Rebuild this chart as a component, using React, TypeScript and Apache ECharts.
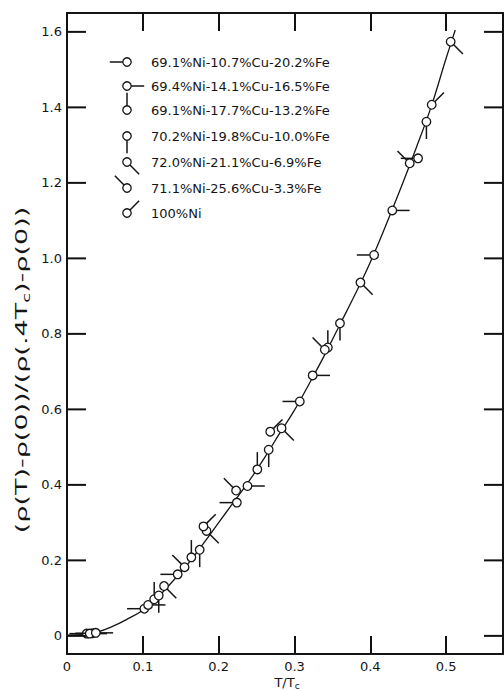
import React, { useEffect, useRef } from "react";
import * as echarts from "echarts";

const seriesNames = [
  "69.1%Ni-10.7%Cu-20.2%Fe",
  "69.4%Ni-14.1%Cu-16.5%Fe",
  "69.1%Ni-17.7%Cu-13.2%Fe",
  "70.2%Ni-19.8%Cu-10.0%Fe",
  "72.0%Ni-21.1%Cu-6.9%Fe",
  "71.1%Ni-25.6%Cu-3.3%Fe",
  "100%Ni",
];
// direction of each sample's "pip" in degrees (0 = right, 90 = up)
const pipAngles = [180, 0, 90, 270, 315, 135, 45];

const s1 = [[0.026, 0.006], [0.034, 0.007], [0.102, 0.072], [0.146, 0.163], [0.224, 0.353], [0.307, 0.621], [0.405, 1.009], [0.463, 1.265]];
const s2 = [[0.030, 0.006], [0.038, 0.008], [0.107, 0.082], [0.238, 0.397], [0.324, 0.690], [0.429, 1.127]];
const s3 = [[0.115, 0.097], [0.164, 0.208], [0.251, 0.441], [0.344, 0.764]];
const s4 = [[0.121, 0.107], [0.175, 0.228], [0.266, 0.493], [0.360, 0.828], [0.474, 1.362]];
const s5 = [[0.128, 0.132], [0.184, 0.278], [0.283, 0.550], [0.387, 0.936], [0.506, 1.574]];
const s6 = [[0.155, 0.182], [0.223, 0.385], [0.340, 0.758], [0.452, 1.252]];
const s7 = [[0.180, 0.290], [0.268, 0.541], [0.481, 1.407]];
const samples = [s1, s2, s3, s4, s5, s6, s7];

const curveX = [0, 0.02, 0.04, 0.06, 0.08, 0.10, 0.12, 0.14, 0.16, 0.18, 0.20, 0.22, 0.24, 0.26, 0.28, 0.30, 0.32, 0.34, 0.36, 0.38, 0.40, 0.42, 0.44, 0.46, 0.48, 0.50, 0.512];
const curveY = [0.002, 0.003, 0.010, 0.025, 0.045, 0.068, 0.103, 0.146, 0.192, 0.245, 0.300, 0.355, 0.410, 0.470, 0.535, 0.598, 0.670, 0.745, 0.825, 0.905, 0.990, 1.085, 1.185, 1.290, 1.400, 1.530, 1.605];

const xTicks = [0, 0.1, 0.2, 0.3, 0.4, 0.5];
const xTickLabels = ["0", "0.1", "0.2", "0.3", "0.4", "0.5"];
const yTicks = [0, 0.2, 0.4, 0.6, 0.8, 1.0, 1.2, 1.4, 1.6];
const yTickLabels = ["0", "0.2", "0.4", "0.6", "0.8", "1.0", "1.2", "1.4", "1.6"];

const X_MIN = 0;
const X_MAX = 0.575;
const Y_MIN = -0.048;
const Y_MAX = 1.65;

const INK = "#151515";
const FONT = "DejaVu Sans";

function labelFor(ticks: number[], labels: string[]) {
  return (v: number) => {
    let best = 0;
    for (let i = 0; i < ticks.length; i++) {
      if (Math.abs(ticks[i] - v) < Math.abs(ticks[best] - v)) best = i;
    }
    return labels[best];
  };
}

function glyph(cx: number, cy: number, angleDeg: number, r: number, len: number) {
  const a = (angleDeg * Math.PI) / 180;
  const dx = Math.cos(a);
  const dy = -Math.sin(a);
  return [
    {
      type: "line",
      shape: { x1: cx + dx * r, y1: cy + dy * r, x2: cx + dx * (r + len), y2: cy + dy * (r + len) },
      style: { stroke: INK, lineWidth: 1.5 },
    },
    {
      type: "circle",
      shape: { cx, cy, r },
      style: { fill: "#fff", stroke: INK, lineWidth: 1.3 },
    },
  ];
}

export default function App() {
  const ref = useRef<HTMLDivElement>(null);
  useEffect(() => {
    if (!ref.current) return;
    const chart = echarts.init(ref.current, undefined, { renderer: "svg" });

    const TICK = 18;

    const legendRows = [62, 86, 110, 136, 162, 188, 213];
    const legendGraphics: any[] = [];
    seriesNames.forEach((name, i) => {
      legendGraphics.push({
        type: "group",
        children: glyph(127, legendRows[i], pipAngles[i], 4.2, 13),
      });
      legendGraphics.push({
        type: "text",
        x: 151,
        y: legendRows[i],
        style: { text: name, fontFamily: FONT, fontSize: 13, fill: INK, verticalAlign: "middle", align: "left" },
      });
    });

    const option: any = {
      animation: false,
      backgroundColor: "#fff",
      grid: { left: 67, right: 1, top: 13, bottom: 36, containLabel: false },
      xAxis: [
        {
          type: "value",
          position: "bottom",
          min: X_MIN,
          max: X_MAX,
          interval: 0.1,
          z: 20,
          axisLine: { show: true, onZero: false, lineStyle: { color: INK, width: 2 } },
          splitLine: { show: false },
          axisTick: { show: true, inside: true, length: TICK, lineStyle: { color: "#111", width: 2 } },
          axisLabel: { show: true, showMaxLabel: false, formatter: labelFor(xTicks, xTickLabels), margin: 6, color: INK, fontSize: 13, fontFamily: FONT },
        },
        {
          type: "value",
          position: "top",
          min: X_MIN,
          max: X_MAX,
          interval: 0.1,
          z: 20,
          axisLine: { show: true, onZero: false, lineStyle: { color: INK, width: 2 } },
          splitLine: { show: false },
          axisTick: { show: true, inside: true, length: TICK, lineStyle: { color: "#111", width: 2 } },
          axisLabel: { show: false },
        },
      ],
      yAxis: [
        {
          type: "value",
          position: "left",
          min: Y_MIN,
          max: Y_MAX,
          axisLine: { show: true, onZero: false, lineStyle: { color: INK, width: 2 } },
          splitLine: { show: false },
          axisTick: { show: false },
          axisLabel: { show: true, customValues: yTicks, formatter: labelFor(yTicks, yTickLabels), margin: 5, color: INK, fontSize: 13, fontFamily: FONT },
        },
        {
          type: "value",
          position: "right",
          min: Y_MIN,
          max: Y_MAX,
          axisLine: { show: true, onZero: false, lineStyle: { color: INK, width: 2 } },
          splitLine: { show: false },
          axisTick: { show: false },
          axisLabel: { show: false },
        },
      ],
      series: [
        {
          type: "line",
          name: "curve",
          data: curveX.map((x, i) => [x, curveY[i]]),
          smooth: 0.4,
          showSymbol: false,
          symbol: "none",
          lineStyle: { color: INK, width: 1.3 },
          z: 1,
        },
        ...samples.map((data, i) => ({
          type: "custom",
          name: seriesNames[i],
          data,
          z: 3,
          clip: false,
          renderItem: (params: any, api: any) => {
            const p = api.coord([api.value(0), api.value(1)]);
            return { type: "group", children: glyph(p[0], p[1], pipAngles[i], 4.3, 13) };
          },
        })),
        {
          type: "custom",
          name: "yTicks",
          data: yTicks.map((v) => [0.2, v]),
          z: 3,
          clip: false,
          renderItem: (params: any, api: any) => {
            const v = api.value(1);
            const l = api.coord([X_MIN, v]);
            const r = api.coord([X_MAX, v]);
            return {
              type: "group",
              children: [
                { type: "line", shape: { x1: l[0], y1: l[1], x2: l[0] + TICK + 1, y2: l[1] }, style: { stroke: "#111", lineWidth: 2 } },
                { type: "line", shape: { x1: r[0], y1: r[1], x2: r[0] - TICK - 1, y2: r[1] }, style: { stroke: "#111", lineWidth: 2 } },
              ],
            };
          },
        },
      ],
      graphic: [
        ...legendGraphics,
        {
          type: "text",
          x: 22,
          y: 370,
          rotation: Math.PI / 2,
          scaleX: 1.8,
          style: {
            text: "{a|(ρ(T)-ρ(0))/(ρ(.4T}{s|c}{a|)-ρ(0))}",
            align: "center",
            verticalAlign: "middle",
            fill: INK,
            rich: {
              a: { fontFamily: FONT, fontSize: 15, fill: INK },
              s: { fontFamily: FONT, fontSize: 10, fill: INK, padding: [8, 0, 0, 0] },
            },
          },
        },
        {
          type: "text",
          x: 287,
          y: 682,
          style: {
            text: "{a|T/T}{s|c}",
            align: "center",
            verticalAlign: "middle",
            fill: INK,
            rich: {
              a: { fontFamily: FONT, fontSize: 13, fill: INK },
              s: { fontFamily: FONT, fontSize: 9, fill: INK, padding: [7, 0, 0, 0] },
            },
          },
        },
      ],
    };

    chart.setOption(option);
    return () => chart.dispose();
  }, []);

  return (
    <div
      ref={ref}
      style={{ position: "absolute", left: 0, top: 0, width: 504, height: 690, background: "#fff" }}
    />
  );
}
